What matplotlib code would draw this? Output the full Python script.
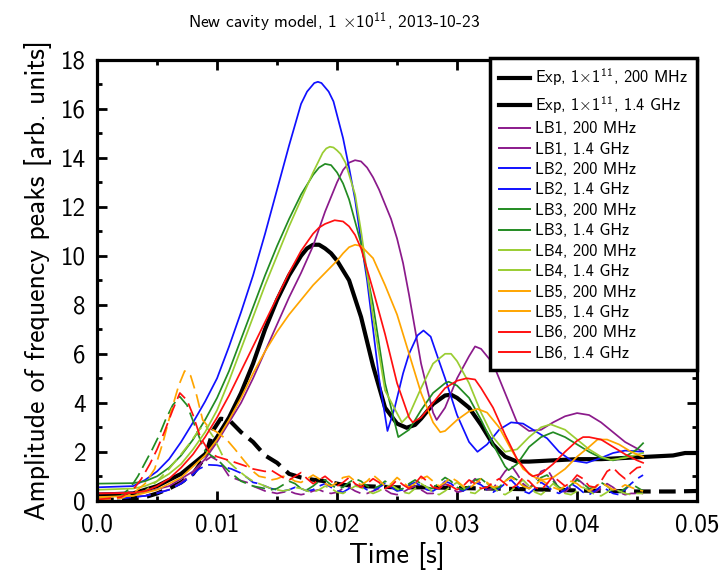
import numpy as np
import matplotlib
matplotlib.use('Agg')
import matplotlib.pyplot as plt
from matplotlib.lines import Line2D
from matplotlib.ticker import MultipleLocator, FuncFormatter

plt.rcParams['font.family'] = 'cmss10'
plt.rcParams['mathtext.fontset'] = 'custom'
plt.rcParams['mathtext.rm'] = 'cmss10'
plt.rcParams['mathtext.it'] = 'cmss10'
plt.rcParams['mathtext.bf'] = 'cmss10'
plt.rcParams['axes.unicode_minus'] = False

# Experiment, 200 MHz peak
t_exp_200 = [0, 0.003, 0.005, 0.007, 0.009, 0.010, 0.011, 0.012, 0.013, 0.014, 0.015, 0.016,
             0.017, 0.0175, 0.018, 0.0185, 0.019, 0.0195, 0.020, 0.021, 0.022, 0.023, 0.024,
             0.025, 0.0258, 0.0265, 0.027, 0.028, 0.029, 0.0295, 0.030, 0.031, 0.032, 0.033,
             0.034, 0.035, 0.036, 0.038, 0.040, 0.042, 0.044, 0.046, 0.048, 0.049, 0.050]
a_exp_200 = [0.25, 0.3, 0.6, 1.1, 1.9, 2.6, 3.4, 4.4, 5.6, 7.0, 8.2, 9.2,
             10.0, 10.3, 10.45, 10.45, 10.3, 10.1, 9.8, 9.0, 7.5, 5.5, 3.8,
             3.15, 2.98, 3.1, 3.35, 3.95, 4.3, 4.33, 4.2, 3.8, 3.1, 2.3,
             1.8, 1.6, 1.6, 1.65, 1.7, 1.7, 1.75, 1.8, 1.85, 1.95, 1.95]

# Experiment, 1.4 GHz peak
t_exp_14 = [0, 0.002, 0.004, 0.005, 0.006, 0.007, 0.008, 0.009, 0.0097, 0.0103, 0.011, 0.012,
            0.013, 0.014, 0.015, 0.016, 0.017, 0.018, 0.019, 0.0205, 0.022, 0.025, 0.028,
            0.030, 0.033, 0.035, 0.038, 0.040, 0.043, 0.045, 0.048, 0.050]
a_exp_14 = [0.05, 0.05, 0.15, 0.3, 0.5, 0.75, 1.1, 1.8, 2.9, 3.35, 3.3, 2.8,
            2.4, 1.85, 1.55, 1.1, 0.95, 0.86, 0.8, 0.65, 0.6, 0.55, 0.55,
            0.52, 0.5, 0.48, 0.45, 0.42, 0.4, 0.38, 0.38, 0.4]

# LB1 .. LB6, 200 MHz
t_lb1_200 = [0, 0.004, 0.006, 0.008, 0.009, 0.010, 0.011, 0.012, 0.013, 0.014, 0.015, 0.016,
             0.017, 0.018, 0.019, 0.020, 0.0205, 0.021, 0.0215, 0.022, 0.0225, 0.023, 0.0235,
             0.024, 0.0245, 0.025, 0.0255, 0.026, 0.027, 0.028, 0.0283, 0.029, 0.030, 0.031,
             0.0315, 0.032, 0.033, 0.034, 0.035, 0.036, 0.037, 0.038, 0.039, 0.040, 0.041,
             0.042, 0.043, 0.044, 0.0455]
a_lb1_200 = [0.3, 0.35, 0.6, 1.2, 1.7, 2.4, 3.2, 4.0, 5.0, 6.1, 7.2, 8.3,
             9.3, 10.4, 11.8, 13.0, 13.5, 13.8, 13.9, 13.85, 13.6, 13.2, 12.7,
             12.1, 11.5, 10.7, 9.7, 8.4, 5.6, 3.6, 3.3, 3.8, 5.0, 5.9,
             6.3, 6.2, 5.6, 4.4, 3.2, 2.85, 2.9, 3.2, 3.45, 3.58, 3.5,
             3.2, 2.8, 2.4, 2.0]

t_lb2_200 = [0, 0.003, 0.004, 0.005, 0.006, 0.007, 0.008, 0.009, 0.010, 0.011, 0.012, 0.013,
             0.014, 0.015, 0.016, 0.017, 0.0175, 0.0181, 0.0184, 0.0187, 0.0193, 0.0197,
             0.0205, 0.021, 0.0215, 0.022, 0.0225, 0.023, 0.0235, 0.0242, 0.0248, 0.0255, 0.026,
             0.0267, 0.0272, 0.0278, 0.0285, 0.029, 0.030, 0.031, 0.0317, 0.0325, 0.0335,
             0.0345, 0.0355, 0.0365, 0.0375, 0.0385, 0.0395, 0.0408, 0.042, 0.043, 0.044, 0.0455]
a_lb2_200 = [0.55, 0.6, 0.85, 1.2, 1.7, 2.4, 3.2, 4.05, 5.0, 6.3, 7.7, 9.2,
             10.9, 12.7, 14.5, 16.2, 16.7, 17.05, 17.1, 17.05, 16.7, 16.3,
             14.8, 13.6, 12.3, 10.6, 9.0, 7.0, 5.0, 2.85, 3.8, 5.2, 6.0,
             6.75, 6.95, 6.7, 5.7, 5.0, 3.5, 2.4, 2.0, 2.3, 2.9,
             3.2, 3.15, 2.85, 2.55, 2.0, 1.65, 1.55, 1.75, 1.95, 2.05, 2.0]

t_lb3_200 = [0, 0.003, 0.004, 0.005, 0.006, 0.007, 0.008, 0.009, 0.010, 0.011, 0.012, 0.013,
             0.014, 0.015, 0.016, 0.017, 0.018, 0.0185, 0.019, 0.0195, 0.020, 0.0205, 0.021,
             0.022, 0.023, 0.024, 0.0251, 0.026, 0.027, 0.028, 0.029, 0.0293, 0.030, 0.031,
             0.032, 0.033, 0.034, 0.0343, 0.035, 0.036, 0.037, 0.038, 0.039, 0.040, 0.041,
             0.042, 0.043, 0.044, 0.045, 0.0455]
a_lb3_200 = [0.7, 0.72, 0.8, 1.0, 1.35, 1.85, 2.5, 3.3, 4.2, 5.3, 6.6, 7.9,
             9.2, 10.4, 11.5, 12.5, 13.3, 13.6, 13.75, 13.7, 13.4, 12.95, 12.3,
             10.5, 8.0, 4.8, 2.6, 2.9, 3.7, 4.4, 4.8, 4.86, 4.7, 4.2,
             3.3, 2.3, 1.4, 1.25, 1.5, 2.2, 2.6, 2.8, 2.6, 2.3, 2.0,
             1.75, 1.65, 1.8, 2.1, 2.35]

t_lb4_200 = [0, 0.003, 0.004, 0.005, 0.006, 0.007, 0.008, 0.009, 0.010, 0.011, 0.012, 0.013,
             0.014, 0.015, 0.016, 0.017, 0.018, 0.0185, 0.0188, 0.0191, 0.0194, 0.0197, 0.020,
             0.0203, 0.0207, 0.0215, 0.022, 0.0225, 0.023, 0.024, 0.0254, 0.026, 0.027, 0.028,
             0.029, 0.0295, 0.030, 0.031, 0.032, 0.033, 0.034, 0.035, 0.036, 0.037, 0.0378,
             0.039, 0.040, 0.041, 0.042, 0.0428, 0.044, 0.0455]
a_lb4_200 = [0.45, 0.5, 0.6, 0.8, 1.1, 1.5, 2.1, 2.8, 3.7, 4.9, 6.2, 7.5,
             8.8, 10.0, 11.2, 12.3, 13.4, 13.9, 14.2, 14.38, 14.45, 14.42, 14.3,
             14.15, 13.8, 12.5, 11.0, 9.3, 7.5, 4.5, 3.2, 3.5, 4.6, 5.6,
             6.0, 6.0, 5.7, 4.8, 3.6, 2.6, 2.0, 2.1, 2.6, 3.0, 3.12,
             2.9, 2.5, 2.1, 1.8, 1.67, 1.75, 1.95]

t_lb5_200 = [0, 0.003, 0.005, 0.007, 0.009, 0.010, 0.011, 0.012, 0.013, 0.014, 0.015, 0.016,
             0.017, 0.018, 0.019, 0.020, 0.0205, 0.021, 0.0215, 0.022, 0.023, 0.024, 0.025,
             0.026, 0.027, 0.028, 0.0286, 0.029, 0.030, 0.031, 0.0317, 0.0325, 0.0335, 0.0345,
             0.0355, 0.0365, 0.0372, 0.038, 0.039, 0.040, 0.041, 0.0417, 0.0425, 0.0435,
             0.0445, 0.0455]
a_lb5_200 = [0.15, 0.2, 0.45, 0.95, 1.85, 2.5, 3.3, 4.2, 5.2, 6.1, 6.9, 7.6,
             8.2, 8.8, 9.3, 9.8, 10.1, 10.35, 10.45, 10.4, 9.9, 8.8, 7.6,
             6.0, 4.4, 3.2, 2.8, 2.85, 3.3, 3.65, 3.75, 3.6, 3.0, 2.1,
             1.3, 0.95, 0.86, 0.95, 1.3, 1.8, 2.2, 2.5, 2.5, 2.3,
             2.0, 1.8]

t_lb6_200 = [0, 0.003, 0.004, 0.005, 0.006, 0.007, 0.008, 0.009, 0.010, 0.011, 0.012, 0.013,
             0.014, 0.015, 0.016, 0.017, 0.018, 0.0185, 0.019, 0.0198, 0.0205, 0.021, 0.0215,
             0.022, 0.023, 0.024, 0.025, 0.026, 0.0263, 0.027, 0.028, 0.029, 0.030, 0.0308,
             0.0315, 0.032, 0.033, 0.034, 0.035, 0.036, 0.0363, 0.037, 0.038, 0.039, 0.040,
             0.0405, 0.041, 0.042, 0.043, 0.044, 0.045, 0.0455]
a_lb6_200 = [0.3, 0.32, 0.4, 0.6, 0.9, 1.35, 1.9, 2.6, 3.4, 4.3, 5.3, 6.3,
             7.3, 8.3, 9.3, 10.2, 10.9, 11.15, 11.3, 11.45, 11.4, 11.2, 10.85,
             10.3, 8.6, 6.8, 4.8, 3.4, 3.2, 3.4, 4.0, 4.6, 4.9, 5.0,
             4.95, 4.6, 3.8, 2.7, 1.7, 1.1, 1.0, 1.1, 1.5, 2.0, 2.45,
             2.6, 2.6, 2.5, 2.2, 1.9, 1.65, 1.55]

# LB1 .. LB6, 1.4 GHz: rise and first decay ...
t_lb1_14 = [0, 0.002, 0.004, 0.006, 0.007, 0.008, 0.0088, 0.0095, 0.0102, 0.011, 0.0118, 0.0125]
a_lb1_14 = [0.1, 0.12, 0.2, 0.45, 0.75, 1.15, 1.55, 1.8, 1.6, 1.0, 0.85, 0.75]
t_lb2_14 = [0, 0.002, 0.004, 0.005, 0.006, 0.007, 0.0078, 0.0085, 0.0092, 0.010, 0.0105, 0.0112,
            0.0119, 0.0125]
a_lb2_14 = [0.02, 0.1, 0.2, 0.3, 0.45, 0.7, 0.98, 1.3, 1.47, 1.45, 1.4, 1.3, 1.15, 0.95]
t_lb3_14 = [0, 0.002, 0.0028, 0.0034, 0.004, 0.0046, 0.0052, 0.0057, 0.0063, 0.0069, 0.0075,
            0.0082, 0.0089, 0.0095, 0.010, 0.011, 0.012]
a_lb3_14 = [0.05, 0.2, 0.55, 1.0, 1.55, 2.1, 2.7, 3.3, 3.9, 4.25, 3.9, 3.0, 2.1, 1.85, 1.7, 1.2, 0.8]
t_lb4_14 = [0, 0.002, 0.004, 0.005, 0.006, 0.007, 0.0078, 0.0085, 0.009, 0.0097, 0.0105, 0.0115,
            0.0125]
a_lb4_14 = [0.1, 0.15, 0.4, 0.8, 1.3, 1.9, 2.4, 2.9, 3.1, 2.6, 1.8, 1.35, 0.95]
t_lb5_14 = [0, 0.002, 0.003, 0.004, 0.0048, 0.0055, 0.0062, 0.0068, 0.0073, 0.0078, 0.0083,
            0.0088, 0.0093, 0.010, 0.0108, 0.0115, 0.0122]
a_lb5_14 = [0.05, 0.1, 0.3, 0.7, 1.3, 2.4, 3.7, 4.7, 5.3, 5.1, 4.3, 3.3, 3.0, 2.8, 2.5, 2.1, 1.67]
t_lb6_14 = [0, 0.002, 0.003, 0.0037, 0.0044, 0.005, 0.0056, 0.0063, 0.0069, 0.0075, 0.008,
            0.0086, 0.0094, 0.010, 0.011, 0.0122]
a_lb6_14 = [0.05, 0.15, 0.45, 0.9, 1.5, 2.1, 2.8, 3.7, 4.4, 4.1, 3.5, 2.6, 1.95, 1.8, 1.65, 1.45]

# ... and the noisy tail, read from 0.013 s to 0.0455 s
tail_lb1_14 = [0.6, 0.5, 0.4, 0.35, 0.3, 0.35, 0.4, 0.3, 0.25, 0.3, 0.4, 0.45, 0.35, 0.3, 0.35,
               0.5, 0.55, 0.4, 0.3, 0.3, 0.4, 0.5, 0.45, 0.3, 0.25, 0.35, 0.5, 0.6, 0.45, 0.3,
               0.3, 0.5, 0.7, 0.55, 0.35, 0.4, 0.65, 0.9, 0.7, 0.45, 0.5, 0.85, 1.2, 1.45, 1.1,
               0.7, 0.5, 0.8, 1.2, 1.3, 0.9, 0.5, 0.35, 0.6, 0.9, 0.7, 0.45, 0.35, 0.5, 0.7,
               0.55, 0.35, 0.25, 0.3, 0.3, 0.3]
tail_lb2_14 = [0.75, 0.7, 0.6, 0.5, 0.45, 0.4, 0.45, 0.55, 0.5, 0.4, 0.45, 0.6, 0.7, 0.55, 0.4,
               0.35, 0.5, 0.65, 0.6, 0.45, 0.4, 0.55, 0.7, 0.55, 0.4, 0.45, 0.65, 0.75, 0.6,
               0.45, 0.4, 0.55, 0.8, 0.7, 0.5, 0.4, 0.55, 0.75, 0.65, 0.45, 0.35, 0.5, 0.7,
               0.85, 0.6, 0.4, 0.3, 0.5, 0.75, 0.6, 0.4, 0.3, 0.45, 0.7, 0.55, 0.35, 0.25, 0.4,
               0.6, 0.45, 0.3, 0.25, 0.45, 0.7, 0.9, 1.05]
tail_lb3_14 = [0.6, 0.55, 0.5, 0.45, 0.5, 0.65, 0.8, 0.7, 0.5, 0.45, 0.6, 0.8, 0.85, 0.65, 0.5,
               0.55, 0.75, 0.9, 0.8, 0.6, 0.5, 0.6, 0.8, 0.65, 0.45, 0.5, 0.7, 0.85, 0.7, 0.55,
               0.5, 0.75, 0.95, 0.8, 0.55, 0.45, 0.6, 0.85, 0.9, 0.7, 0.5, 0.55, 0.8, 1.0, 0.85,
               0.6, 0.5, 0.7, 0.95, 1.05, 0.8, 0.55, 0.45, 0.65, 0.85, 0.7, 0.5, 0.55, 0.75,
               0.6, 0.4, 0.35, 0.5, 0.7, 0.55, 0.4]
tail_lb4_14 = [0.8, 0.7, 0.6, 0.5, 0.45, 0.4, 0.45, 0.55, 0.5, 0.4, 0.35, 0.45, 0.6, 0.5, 0.35,
               0.3, 0.45, 0.6, 0.55, 0.4, 0.3, 0.4, 0.55, 0.65, 0.5, 0.35, 0.3, 0.5, 0.7, 0.55,
               0.35, 0.25, 0.4, 0.6, 0.75, 0.55, 0.35, 0.3, 0.5, 0.7, 0.55, 0.35, 0.25, 0.4,
               0.65, 0.85, 0.6, 0.35, 0.25, 0.45, 0.7, 0.5, 0.3, 0.25, 0.4, 0.55, 0.4, 0.25,
               0.2, 0.35, 0.5, 0.4, 0.3, 0.25, 0.3, 0.3]
tail_lb5_14 = [1.2, 1.0, 0.95, 0.85, 0.9, 1.0, 0.95, 0.8, 0.75, 0.9, 1.05, 0.9, 0.7, 0.6, 0.75,
               0.95, 1.0, 0.8, 0.65, 0.8, 1.05, 0.85, 0.6, 0.7, 0.95, 0.75, 0.55, 0.7, 0.9, 1.0,
               0.8, 0.6, 0.75, 0.95, 0.8, 0.6, 0.5, 0.7, 0.9, 0.75, 0.55, 0.6, 0.8, 0.95, 0.8,
               0.6, 0.5, 0.65, 0.85, 0.7, 0.55, 0.45, 0.6, 0.8, 0.7, 0.5, 0.4, 0.55, 0.75, 0.6,
               0.45, 0.5, 0.65, 0.55, 0.45, 0.4]
tail_lb6_14 = [1.3, 1.25, 1.2, 1.25, 1.1, 0.95, 0.85, 1.0, 1.15, 0.9, 0.7, 0.85, 1.0, 0.8, 0.6,
               0.75, 0.95, 0.7, 0.55, 0.7, 0.9, 0.75, 0.5, 0.6, 0.85, 0.65, 0.5, 0.7, 1.0, 0.8,
               0.55, 0.5, 0.7, 0.6, 0.45, 0.6, 0.85, 0.7, 0.5, 0.55, 0.75, 0.9, 0.7, 0.5, 0.65,
               0.95, 0.8, 0.55, 0.45, 0.7, 1.0, 0.8, 0.6, 0.75, 1.05, 0.9, 0.6, 0.55, 0.8, 1.2,
               1.35, 1.1, 0.9, 1.15, 1.35, 1.4]

lb_names = ['LB1', 'LB2', 'LB3', 'LB4', 'LB5', 'LB6']
lb_colors = ['#8b1a8b', '#1010ff', '#228b22', '#9acd32', '#ffa500', '#ff1010']

x_ticks = [0.0, 0.01, 0.02, 0.03, 0.04, 0.05]
y_ticks = [0, 2, 4, 6, 8, 10, 12, 14, 16, 18]


def main():
    fig = plt.figure(figsize=(7.19, 5.83), dpi=100)
    ax = fig.add_axes([0.135, 0.141, 0.8345, 0.7565])

    t200 = [t_lb1_200, t_lb2_200, t_lb3_200, t_lb4_200, t_lb5_200, t_lb6_200]
    a200 = [a_lb1_200, a_lb2_200, a_lb3_200, a_lb4_200, a_lb5_200, a_lb6_200]
    t14 = [t_lb1_14, t_lb2_14, t_lb3_14, t_lb4_14, t_lb5_14, t_lb6_14]
    a14 = [a_lb1_14, a_lb2_14, a_lb3_14, a_lb4_14, a_lb5_14, a_lb6_14]
    tails = [tail_lb1_14, tail_lb2_14, tail_lb3_14, tail_lb4_14, tail_lb5_14, tail_lb6_14]

    ax.plot(t_exp_200, a_exp_200, color='k', lw=3.0, solid_joinstyle='round')
    ax.plot(t_exp_14, a_exp_14, color='k', lw=3.0, dashes=(4, 2))

    for i in range(6):
        ax.plot(t200[i], a200[i], color=lb_colors[i], lw=1.25, solid_joinstyle='round')
        # tail samples are equally spaced between 0.013 and 0.0455 s
        t_tail = np.linspace(0.013, 0.0455, len(tails[i]))
        tt = list(t14[i]) + list(t_tail)
        aa = list(a14[i]) + list(tails[i])
        ax.plot(tt, aa, color=lb_colors[i], lw=1.25, dashes=(8, 3.5))

    ax.set_xlim(0, 0.05)
    ax.set_ylim(0, 18)
    ax.set_xticks(x_ticks)
    ax.set_yticks(y_ticks)
    ax.xaxis.set_minor_locator(MultipleLocator(0.005))
    ax.yaxis.set_minor_locator(MultipleLocator(1))
    ax.xaxis.set_major_formatter(FuncFormatter(lambda v, p: '0.0' if v == 0 else '%.2f' % v))
    ax.tick_params(which='both', direction='in', top=True, right=True, width=2.0)
    ax.tick_params(which='major', length=7)
    ax.tick_params(which='minor', length=3.5)
    ax.tick_params(axis='x', labelsize=18, pad=9)
    ax.tick_params(axis='y', labelsize=18, pad=8)
    for sp in ax.spines.values():
        sp.set_linewidth(2.3)

    ax.set_xlabel('Time [s]', fontsize=20, labelpad=4)
    ax.set_ylabel('Amplitude of frequency peaks [arb. units]', fontsize=20, labelpad=6)

    fig.text(0.465, 0.962, r'New cavity model, 1 $\times$10$^{11}$, 2013-10-23',
             ha='center', va='center', fontsize=12.5)

    handles = [Line2D([], [], color='k', lw=3.0), Line2D([], [], color='k', lw=3.0)]
    labels = [r'Exp, 1$\times$1$^{11}$, 200 MHz', r'Exp, 1$\times$1$^{11}$, 1.4 GHz']
    for name, col in zip(lb_names, lb_colors):
        handles += [Line2D([], [], color=col, lw=1.4), Line2D([], [], color=col, lw=1.4)]
        labels += [name + ', 200 MHz', name + ', 1.4 GHz']
    leg = ax.legend(handles, labels, loc='upper right', bbox_to_anchor=(1.0, 1.005),
                    fontsize=11.8, handlelength=1.85, handletextpad=0.35, labelspacing=0.33,
                    borderpad=0.55, borderaxespad=0, fancybox=False, framealpha=1)
    leg.get_frame().set_edgecolor('k')
    leg.get_frame().set_linewidth(2.5)

    plt.savefig('out.png', dpi=100)


if __name__ == '__main__':
    main()
